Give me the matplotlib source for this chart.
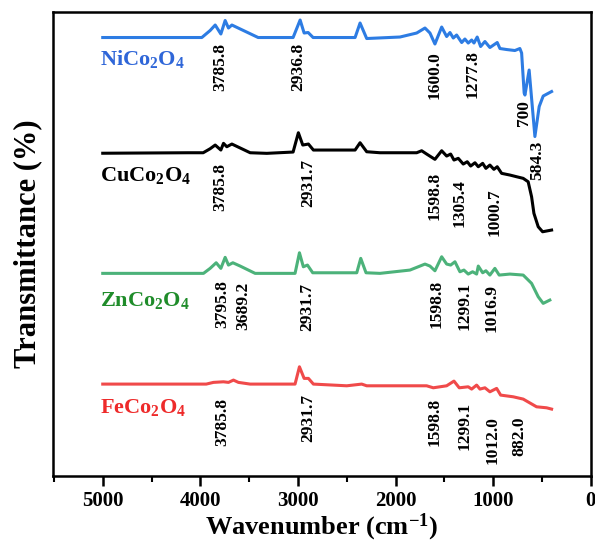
import matplotlib
matplotlib.use("Agg")
import matplotlib.pyplot as plt
import numpy as np

plt.rcParams['font.family'] = ['Liberation Serif', 'DejaVu Serif']
plt.rcParams['font.weight'] = 'bold'
plt.rcParams['mathtext.fontset'] = 'custom'
plt.rcParams['mathtext.rm'] = 'Liberation Serif:bold'
plt.rcParams['mathtext.bf'] = 'Liberation Serif:bold'
plt.rcParams['mathtext.it'] = 'Liberation Serif:bold'

# ---------------- data (wavenumber cm^-1, relative transmittance a.u.) -------------
wn_ni = [5000, 3985, 3900, 3848, 3790, 3746, 3712, 3677, 3408, 3050, 2978, 2937, 2896, 2845,
         2415, 2364, 2296, 1955, 1784, 1699, 1648, 1597, 1528, 1477, 1443, 1409, 1375, 1323,
         1290, 1256, 1221, 1197, 1164, 1129, 1085, 1034, 959, 931, 863, 778, 727, 709, 683,
         675, 632, 573, 529, 488, 402]
t_ni = [0, 0, 7, 12.5, 3.5, 17, 9.5, 12.5, 0, 0, 17.5, 4.5, 5, 0,
        0, 14.5, -1, 0.5, 4.5, 9.5, 4.5, -6.5, 10.5, 1, 5, -0.5, 2.5, -5,
        -1.5, -5.5, -2.5, -5.5, 0.5, -9, -4, -10, -5, -11, -12, -13, -11, -15.5, -55.5,
        -57.5, -32.5, -99, -69, -58.5, -54]

wn_cu = [5000, 4125, 3971, 3900, 3848, 3790, 3763, 3729, 3677, 3490, 3319, 3050, 2996, 2951,
         2893, 2842, 2415, 2364, 2296, 2160, 1784, 1733, 1682, 1597, 1528, 1477, 1436, 1402,
         1358, 1307, 1266, 1231, 1187, 1153, 1108, 1075, 1034, 993, 959, 914, 829, 760, 693,
         642, 607, 583, 539, 494, 402]
t_cu = [-0.5, 0, 0, 4, 7.7, 2.7, 9.4, 6, 8.7, 0, -0.6, 0.7, 20, 7.7,
        8.7, 2.7, 2.7, 10, 1, 0, 0, 2, -1.3, -6.6, 2, -3.3, -1.3, -7.3,
        -5.6, -11.3, -9, -13.3, -10, -14, -10.6, -15.6, -12.3, -16.6, -14, -20.6, -22.3, -24, -25.6,
        -29, -44, -60.6, -74, -79, -77.3]

wn_zn = [5000, 3968, 3900, 3838, 3790, 3746, 3712, 3667, 3592, 3439, 3030, 2985, 2945, 2903,
         2849, 2398, 2357, 2303, 2160, 1853, 1750, 1699, 1648, 1597, 1528, 1477, 1436, 1392,
         1341, 1300, 1256, 1211, 1170, 1153, 1108, 1075, 1034, 983, 939, 829, 693, 607, 539,
         488, 420]
t_zn = [0, 0, 5, 10.6, 5, 16, 8.3, 10.6, 7.3, 0, 0, 20.6, 6.6, 8.3,
        0.6, 0.6, 15, 0.6, 0, 3.3, 7.3, 9.3, 7.3, 2.6, 16.6, 9.3, 8.3, 11.6,
        1.6, 3.3, -0.7, 1.6, -0.7, 7.3, 0.6, 2.6, -1.7, 5, -1.7, -0.7, -1.7, -10, -23.4,
        -30, -26.7]

wn_fe = [5000, 3940, 3866, 3763, 3712, 3661, 3610, 3490, 3030, 2985, 2937, 2893, 2842, 2500,
         2347, 2296, 1682, 1614, 1477, 1402, 1348, 1256, 1221, 1170, 1136, 1085, 1034, 965,
         924, 795, 693, 556, 453, 402]
t_fe = [0, 0, 1.7, 2.3, 1.7, 4, 1.7, 0, 0, 17.3, 5.7, 5.7, 0, -1.7,
        0, -1.7, -1.7, -3.7, -1.7, 3, -3.7, -2.7, -5, -1, -5, -3.7, -7.7, -4.3,
        -11, -12.7, -15, -22.7, -23.7, -25]

samples = ['NiCo$_2$O$_4$', 'CuCo$_2$O$_4$', 'ZnCo$_2$O$_4$', 'FeCo$_2$O$_4$']
offsets = [438.5, 323.3, 202.7, 92.0]

peaks_ni = ['3785.8', '2936.8', '1600.0', '1277.8', '700', '584.3']
peaks_cu = ['3785.8', '2931.7', '1598.8', '1305.4', '1000.7']
peaks_zn = ['3795.8', '3689.2', '2931.7', '1598.8', '1299.1', '1016.9']
peaks_fe = ['3785.8', '2931.7', '1598.8', '1299.1', '1012.0', '882.0']

# label anchor positions (wavenumber, y)
pk_x_ni = [3797, 2999, 1597, 1208, 686, 553]
pk_y_ni = [409, 409, 401, 402, 363, 316]
pk_x_cu = [3797, 2896, 1597, 1341, 983]
pk_y_cu = [289, 293, 280, 273, 264]
pk_x_zn = [3780, 3559, 2907, 1579, 1290, 1016]
pk_y_zn = [172, 170, 169, 172, 170, 168]
pk_x_fe = [3780, 2893, 1597, 1290, 1003, 737]
pk_y_fe = [54, 58, 54, 50, 36, 40]

line_colors = ['#2d7ce3', '#000000', '#4cb27a', '#f04a4a']
text_colors = ['#2f66d8', '#000000', '#1f8c2a', '#ee2a2a']
label_y = [417.5, 300.5, 176, 69]

fig = plt.figure(figsize=(5.95, 5.46), dpi=100)
ax = fig.add_axes([0.089, 0.128, 0.904, 0.85])

wns = [wn_ni, wn_cu, wn_zn, wn_fe]
ts = [t_ni, t_cu, t_zn, t_fe]
for w, t, off, c in zip(wns, ts, offsets, line_colors):
    ax.plot(w, np.array(t) + off, color=c, lw=2.2, solid_joinstyle='round')

for s, ly, tc in zip(samples, label_y, text_colors):
    ax.text(5030, ly, s, color=tc, fontsize=16, fontweight='bold', ha='left', va='center')

for labs, xs, ys in [(peaks_ni, pk_x_ni, pk_y_ni), (peaks_cu, pk_x_cu, pk_y_cu),
                     (peaks_zn, pk_x_zn, pk_y_zn), (peaks_fe, pk_x_fe, pk_y_fe)]:
    for l, x, y in zip(labs, xs, ys):
        ax.text(x, y, l, rotation=90, ha='center', va='center', fontsize=12.5,
                fontweight='bold', color='black')

ax.set_xlim(5510, 0)
ax.set_ylim(0, 464)
ax.set_xticks([5000, 4000, 3000, 2000, 1000, 0])
ax.set_xticks([5500, 4500, 3500, 2500, 1500, 500], minor=True)
ax.set_yticks([])
ax.tick_params(axis='x', which='major', direction='out', length=7, width=1.8, labelsize=15, pad=4)
ax.tick_params(axis='x', which='minor', direction='out', length=4, width=1.5)
for lab in ax.get_xticklabels():
    lab.set_fontweight('bold')
for sp in ax.spines.values():
    sp.set_linewidth(1.8)

ax.set_xlabel('Wavenumber (cm$^{-1}$)', fontsize=19, fontweight='bold', labelpad=0)
ax.set_ylabel('Transmittance (%)', fontsize=22, fontweight='bold', labelpad=8)

fig.savefig('out.png', dpi=100)
